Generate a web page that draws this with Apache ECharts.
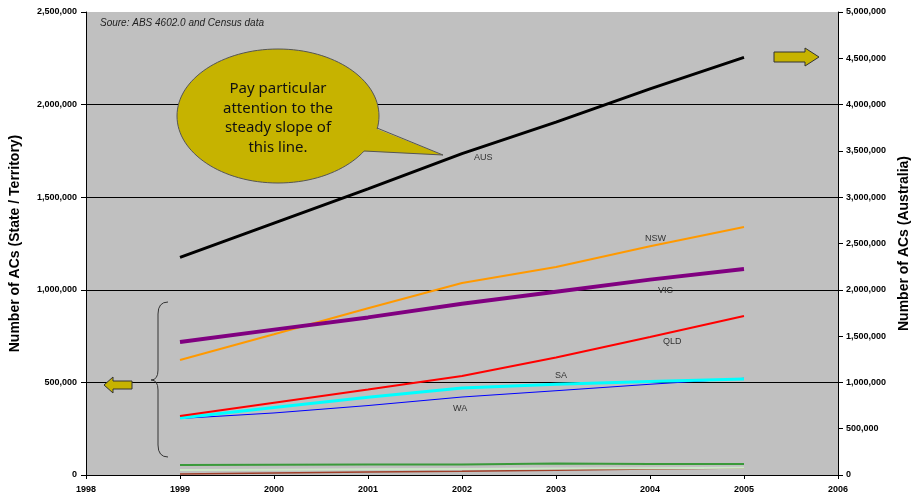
<!DOCTYPE html>
<html lang="en">
<head>
<meta charset="utf-8">
<title>Number of ACs</title>
<script src="https://cdn.jsdelivr.net/npm/echarts@6/dist/echarts.min.js"></script>
<style>
  html, body { margin: 0; padding: 0; background: #fff; }
  #chart { width: 915px; height: 495px; }
</style>
</head>
<body>
<div id="chart"></div>
<script>
// years on the x axis
var years = [1999, 2000, 2001, 2002, 2003, 2004, 2005];
var xTicks = [1998, 1999, 2000, 2001, 2002, 2003, 2004, 2005, 2006];

// Australia total (right axis)
var aus = [2350000, 2720000, 3090000, 3470000, 3810000, 4170000, 4510000];
// states / territories (left axis)
var nsw = [621000, 760000, 900000, 1037000, 1123000, 1235000, 1339000];
var vic = [718000, 785000, 851000, 925000, 990000, 1055000, 1112000];
var qld = [319000, 390000, 462000, 535000, 635000, 745000, 859000];
var sa  = [308000, 365000, 420000, 470000, 490000, 505000, 518000];
var wa  = [305000, 335000, 375000, 421000, 455000, 490000, 522000];
var act = [54000, 56000, 57000, 57000, 62000, 60000, 60000];
var nt  = [27000, 29000, 31000, 33000, 35000, 37000, 39000];
var tas = [5000, 11000, 16000, 20000, 26000, 32000, 38000];

function pairs(vals) {
    return years.map(function (y, i) { return [y, vals[i]]; });
}

function lineSeries(name, vals, color, width, axis) {
    return {
        name: name,
        type: 'line',
        yAxisIndex: axis || 0,
        data: pairs(vals),
        symbol: 'none',
        lineStyle: { color: color, width: width },
        z: 3
    };
}

function seriesLabel(text, x, y) {
    return { type: 'text', x: x, y: y, z: 10, style: { text: text, font: '9px Liberation Sans', fill: '#333' } };
}

function curve(x1, y1, cx, cy, x2, y2) {
    return { type: 'bezierCurve', z: 10,
             shape: { x1: x1, y1: y1, cpx1: cx, cpy1: cy, x2: x2, y2: y2 },
             style: { fill: null, stroke: '#333', lineWidth: 1 } };
}

var chart = echarts.init(document.getElementById('chart'));

var labelFont = { fontFamily: 'Liberation Sans', fontSize: 9, fontWeight: 'bold', color: '#000' };
var bubbleFill = '#c6b300';

var option = {
    animation: false,
    backgroundColor: '#fff',
    grid: { left: 86, right: 77, top: 12, bottom: 20, containLabel: false, outerBoundsMode: 'none',
            show: true, backgroundColor: '#c0c0c0', borderWidth: 0 },
    xAxis: {
        type: 'value',
        min: 1998, max: 2006, interval: 1,
        axisLine: { lineStyle: { color: '#000', width: 1 } },
        axisTick: { show: true, length: 4, lineStyle: { color: '#000' } },
        axisLabel: Object.assign({ margin: 10, formatter: function (v) { return xTicks.indexOf(v) >= 0 ? String(v) : ''; } }, labelFont),
        splitLine: { show: false }
    },
    yAxis: [{
        type: 'value',
        min: 0, max: 2500000, interval: 500000,
        name: 'Number of ACs (State / Territory)',
        nameLocation: 'middle',
        nameGap: 64,
        nameTextStyle: { fontFamily: 'Liberation Sans', fontSize: 14, fontWeight: 'bold', color: '#000' },
        axisLine: { show: true, lineStyle: { color: '#000' } },
        axisTick: { show: true, length: 5, lineStyle: { color: '#000' } },
        axisLabel: Object.assign({ margin: 9, formatter: function (v) { return v.toLocaleString('en-US'); } }, labelFont),
        // no line along the top edge
        splitLine: { show: true, lineStyle: { color: ['#000', '#000', '#000', '#000', '#000', '#c0c0c0'], width: 1 } }
    }, {
        type: 'value',
        position: 'right',
        min: 0, max: 5000000, interval: 500000,
        name: 'Number of ACs (Australia)',
        nameLocation: 'middle',
        nameGap: 59,
        nameRotate: 90,
        nameTextStyle: { fontFamily: 'Liberation Sans', fontSize: 14, fontWeight: 'bold', color: '#000' },
        axisLine: { show: true, lineStyle: { color: '#000' } },
        axisTick: { show: true, length: 5, lineStyle: { color: '#000' } },
        axisLabel: Object.assign({ margin: 8, formatter: function (v) { return v.toLocaleString('en-US'); } }, labelFont),
        splitLine: { show: false }
    }],
    series: [
        lineSeries('TAS', tas, '#a0402a', 1.5),
        lineSeries('NT', nt, '#cce8c8', 2),
        lineSeries('ACT', act, '#3a9a3a', 2),
        lineSeries('WA', wa, '#0000ff', 1),
        lineSeries('SA', sa, '#00ffff', 3),
        lineSeries('QLD', qld, '#ff0000', 2),
        lineSeries('NSW', nsw, '#ff9900', 2),
        lineSeries('VIC', vic, '#800080', 4),
        lineSeries('AUS', aus, '#000000', 3, 1)
    ],
    graphic: [
        // source note
        { type: 'text', x: 100, y: 18, z: 10,
          style: { text: 'Soure: ABS 4602.0 and Census data', font: 'italic 10px Liberation Sans', fill: '#222' } },
        // series labels
        seriesLabel('AUS', 474, 153),
        seriesLabel('NSW', 645, 234),
        seriesLabel('VIC', 658, 286),
        seriesLabel('QLD', 663, 337),
        seriesLabel('SA', 555, 371),
        seriesLabel('WA', 453, 404),
        // speech bubble: ellipse, tail fill, tail outline
        { type: 'ellipse', z: 10,
          shape: { cx: 278, cy: 116, rx: 101, ry: 67 },
          style: { fill: bubbleFill, stroke: '#555', lineWidth: 1 } },
        { type: 'polygon', z: 11,
          shape: { points: [[372, 127], [443, 155], [360, 151]] },
          style: { fill: bubbleFill } },
        { type: 'polyline', z: 12,
          shape: { points: [[377, 128], [443, 155], [364, 151]] },
          style: { fill: null, stroke: '#555', lineWidth: 1 } },
        { type: 'text', x: 278, y: 118, z: 13,
          style: { text: 'Pay particular\nattention to the\nsteady slope of\nthis line.', fontFamily: 'Noto Sans', fontSize: 15,
                   lineHeight: 19.5, fill: '#111', align: 'center', verticalAlign: 'middle' } },
        // brace
        curve(168, 302, 158, 302, 158, 314),
        { type: 'line', z: 10, shape: { x1: 158, y1: 314, x2: 158, y2: 370 }, style: { stroke: '#333', lineWidth: 1 } },
        curve(158, 370, 158, 380, 151, 380),
        curve(151, 380, 158, 380, 158, 390),
        { type: 'line', z: 10, shape: { x1: 158, y1: 390, x2: 158, y2: 445 }, style: { stroke: '#333', lineWidth: 1 } },
        curve(158, 445, 158, 457, 168, 457),
        // left arrow
        { type: 'polygon', z: 10,
          shape: { points: [[104, 385], [113, 377], [113, 381], [132, 381], [132, 389], [113, 389], [113, 393]] },
          style: { fill: bubbleFill, stroke: '#333', lineWidth: 1 } },
        // right arrow
        { type: 'polygon', z: 10,
          shape: { points: [[774, 52], [805, 52], [805, 48], [819, 57], [805, 66], [805, 62], [774, 62]] },
          style: { fill: bubbleFill, stroke: '#333', lineWidth: 1 } }
    ]
};

chart.setOption(option);
</script>
</body>
</html>
